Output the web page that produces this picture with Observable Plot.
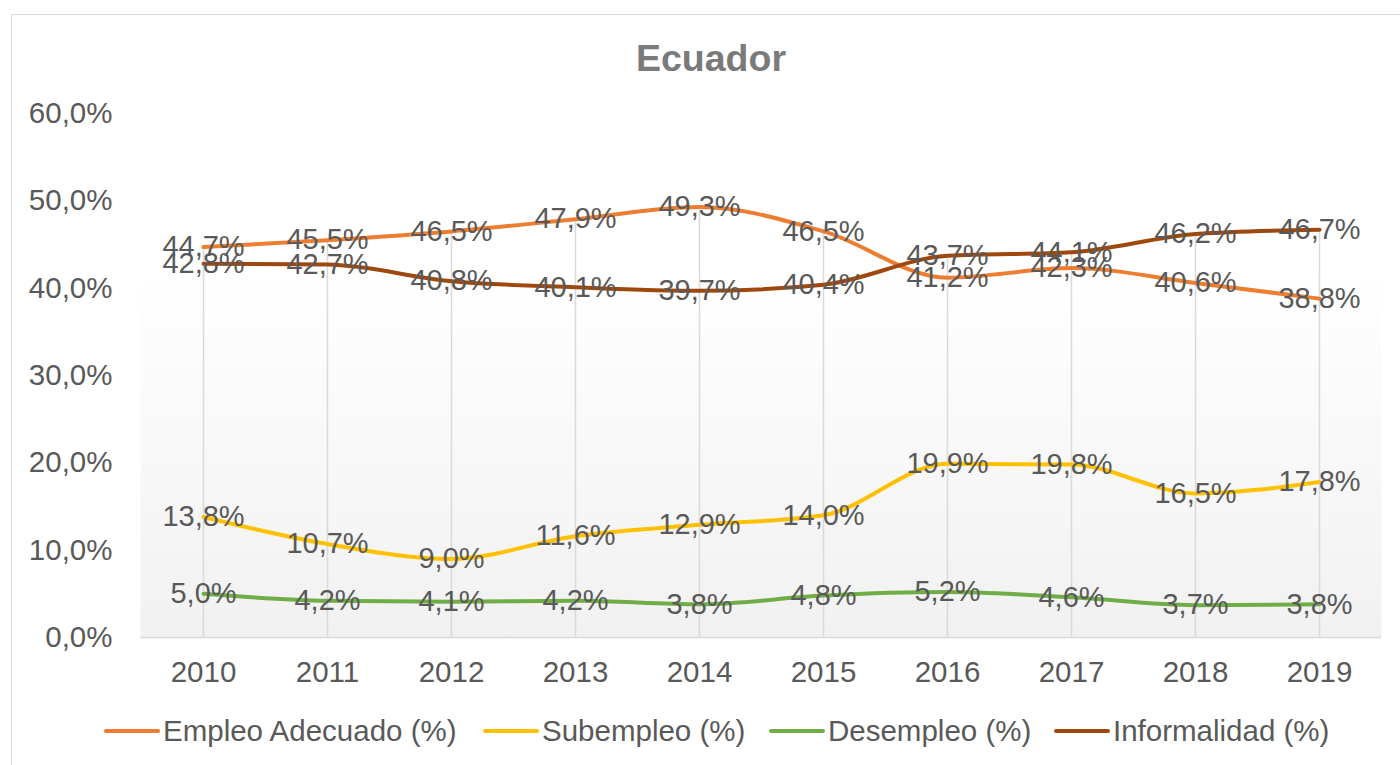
<!DOCTYPE html>
<html>
<head>
<meta charset="utf-8">
<script src="https://cdn.jsdelivr.net/npm/d3@7"></script>
<script src="https://cdn.jsdelivr.net/npm/@observablehq/plot@0.6"></script>
<style>
  html, body { margin: 0; padding: 0; background: #fff; }
  #wrap { position: relative; width: 1400px; height: 765px; overflow: hidden; font-family: "Liberation Sans", Arial, sans-serif; }
  #border { position: absolute; left: 11px; top: 14px; width: 1500px; height: 900px; border: 1.5px solid #d9d9d9; box-sizing: border-box; }
  #title { position: absolute; left: 0; width: 1422px; top: 36px; text-align: center; font-size: 37.5px; font-weight: bold; color: #7a7a7a; line-height: 44px; }
  #chart { position: absolute; left: 0; top: 90px; }
  .leg { position: absolute; top: 714px; height: 34px; display: flex; align-items: center; font-size: 29.5px; color: #595959; white-space: nowrap; }
  .sw { width: 56px; height: 4.5px; border-radius: 3px; margin-right: 3px; }
</style>
</head>
<body>
<div id="wrap">
  <div id="border"></div>
  <div id="title">Ecuador</div>
  <div id="chart"></div>
  <div id="legend"></div>
</div>
<script>
const years = ["2010","2011","2012","2013","2014","2015","2016","2017","2018","2019"];
const seriesNames = ["Empleo Adecuado (%)", "Subempleo (%)", "Desempleo (%)", "Informalidad (%)"];
const seriesColors = ["#ED7D31", "#FFC000", "#70AD47", "#9E480E"];
const empleoAdecuado = [44.7, 45.5, 46.5, 47.9, 49.3, 46.5, 41.2, 42.3, 40.6, 38.8];
const subempleo = [13.8, 10.7, 9.0, 11.6, 12.9, 14.0, 19.9, 19.8, 16.5, 17.8];
const desempleo = [5.0, 4.2, 4.1, 4.2, 3.8, 4.8, 5.2, 4.6, 3.7, 3.8];
const informalidad = [42.8, 42.7, 40.8, 40.1, 39.7, 40.4, 43.7, 44.1, 46.2, 46.7];
const yTicks = [0, 10, 20, 30, 40, 50, 60];

const seriesValues = [empleoAdecuado, subempleo, desempleo, informalidad];
const fmt = v => v.toFixed(1).replace(".", ",") + "%";

const data = seriesNames.flatMap((s, i) =>
  years.map((yr, j) => ({ series: s, year: yr, value: seriesValues[i][j] })));
const drops = years.map((yr, j) => ({ year: yr, top: d3.max(seriesValues, a => a[j]) }));

const gradientDefs = () => {
  const g = d3.create("svg:g");
  const lg = g.append("defs").append("linearGradient")
    .attr("id", "bg").attr("x1", 0).attr("y1", 0).attr("x2", 0).attr("y2", 1);
  lg.append("stop").attr("offset", "0").attr("stop-color", "#ffffff");
  lg.append("stop").attr("offset", "0.3").attr("stop-color", "#ffffff");
  lg.append("stop").attr("offset", "1").attr("stop-color", "#f1f1f1");
  return g.node();
};

const chart = Plot.plot({
  width: 1400,
  height: 600,
  marginTop: 23,
  marginBottom: 53,
  marginLeft: 140,
  marginRight: 19,
  style: { fontFamily: "'Liberation Sans', Arial, sans-serif", fontSize: "29px", color: "#595959", background: "transparent" },
  x: { type: "point", domain: years, padding: 0.5, label: null },
  y: { domain: [0, 60], label: null },
  color: { domain: seriesNames, range: seriesColors },
  marks: [
    gradientDefs,
    Plot.frame({ fill: "url(#bg)", stroke: "none" }),
    Plot.ruleX(drops, { x: "year", y1: 0, y2: "top", stroke: "#d9d9d9", strokeWidth: 1.5 }),
    Plot.ruleY([0], { stroke: "#d9d9d9", strokeWidth: 1.5 }),
    Plot.axisY({ ticks: yTicks, tickFormat: fmt, tickSize: 0, tickPadding: 28, fontSize: 29.5, label: null }),
    Plot.axisX({ tickSize: 0, tickPadding: 24, fontSize: 29.5, label: null }),
    Plot.line(data, { x: "year", y: "value", z: "series", stroke: "series", strokeWidth: 4, curve: "monotone-x", strokeLinecap: "round", strokeLinejoin: "round" }),
    Plot.text(data, { x: "year", y: "value", text: d => fmt(d.value), fontSize: 29, fill: "#595959", textAnchor: "middle" })
  ]
});
document.getElementById("chart").appendChild(chart);

const legLefts = [104, 483, 769, 1054];
const legend = document.getElementById("legend");
seriesNames.forEach((s, i) => {
  const item = document.createElement("div");
  item.className = "leg";
  item.style.left = legLefts[i] + "px";
  const sw = document.createElement("div");
  sw.className = "sw";
  sw.style.background = seriesColors[i];
  const t = document.createElement("span");
  t.textContent = s;
  item.appendChild(sw);
  item.appendChild(t);
  legend.appendChild(item);
});
</script>
</body>
</html>
